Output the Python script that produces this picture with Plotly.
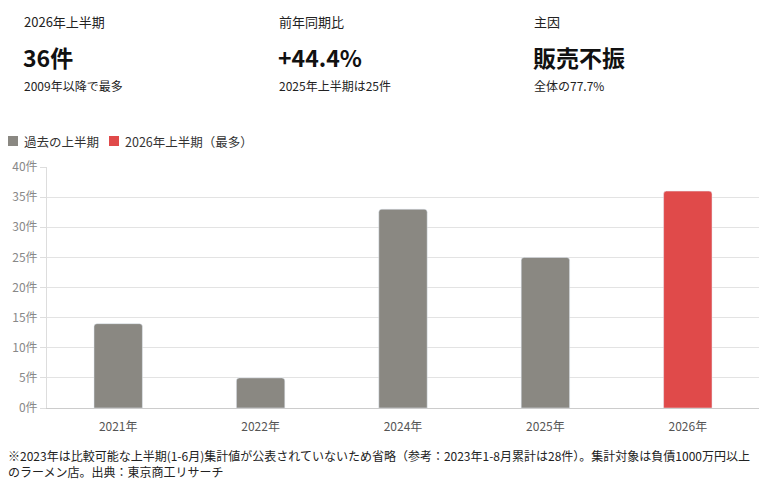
import plotly.graph_objects as go

categories = ["2021年", "2022年", "2024年", "2025年", "2026年"]
values = [14, 5, 33, 25, 36]
past_cats = categories[:4]
past_vals = values[:4]
latest_cats = categories[4:]
latest_vals = values[4:]
y_ticks = [0, 5, 10, 15, 20, 25, 30, 35, 40]
y_labels = [f"{v}件" for v in y_ticks]

GRAY = "#8a8882"
RED = "#e04a4a"

W, H = 768, 484
L, R, T, B = 47, 9, 167, 76
PW, PH = W - L - R, H - T - B
FONT = "Noto Sans CJK JP, Noto Sans, sans-serif"

def px(x):
    return (x - L) / PW

def py(y):
    return (H - B - y) / PH

fig = go.Figure()
fig.add_trace(go.Bar(x=past_cats, y=past_vals, name="過去の上半期",
                     marker=dict(color=GRAY, cornerradius=3), width=0.34))
fig.add_trace(go.Bar(x=latest_cats, y=latest_vals, name="2026年上半期（最多）",
                     marker=dict(color=RED, cornerradius=3), width=0.34))

fig.update_layout(
    width=W, height=H,
    margin=dict(l=L, r=R, t=T, b=B, autoexpand=False),
    plot_bgcolor="white", paper_bgcolor="white",
    barmode="overlay",
    font=dict(family=FONT, color="#333"),
    showlegend=False,
)
fig.update_xaxes(categoryorder="array", categoryarray=categories,
                 showline=True, linecolor="#cccccc", ticks="",
                 ticklabelstandoff=8,
                 tickfont=dict(size=12, color="#555"))
fig.update_yaxes(range=[0, 40], tickvals=y_ticks, ticktext=y_labels,
                 showgrid=True, gridcolor="#e3e3e3", zeroline=False,
                 showline=True, linecolor="#dddddd",
                 ticks="outside", ticklen=6, tickcolor="#dddddd",
                 tickfont=dict(size=12, color="#888"))

# legend (drawn manually to match reference spacing)
legend_items = [(8, GRAY, "過去の上半期"), (109, RED, "2026年上半期（最多）")]
for x0, col, txt in legend_items:
    fig.add_shape(type="rect", xref="paper", yref="paper",
                  x0=px(x0), x1=px(x0 + 10), y0=py(146), y1=py(136),
                  fillcolor=col, line=dict(width=0))
    fig.add_annotation(x=px(x0 + 14), y=py(141), xref="paper", yref="paper",
                       text=txt, showarrow=False, xanchor="left", yanchor="middle",
                       font=dict(size=12.5, color="#333"))

kpis = [
    (24, "2026年上半期", "36件", "2009年以降で最多"),
    (279, "前年同期比", "+44.4%", "2025年上半期は25件"),
    (534, "主因", "販売不振", "全体の77.7%"),
]
for x0, lab, val, sub in kpis:
    fig.add_annotation(x=px(x0 - 2), y=py(22), xref="paper", yref="paper",
                       text=lab, showarrow=False, xanchor="left", yanchor="middle",
                       font=dict(size=13, color="#222"))
    fig.add_annotation(x=px(x0 - 3), y=py(57), xref="paper", yref="paper",
                       text="<b>" + val + "</b>", showarrow=False, xanchor="left", yanchor="middle",
                       font=dict(size=23, color="#111"))
    fig.add_annotation(x=px(x0 - 2), y=py(85), xref="paper", yref="paper",
                       text=sub, showarrow=False, xanchor="left", yanchor="middle",
                       font=dict(size=12, color="#222"))

fig.add_annotation(x=px(6), y=py(445), xref="paper", yref="paper",
                   text="※2023年は比較可能な上半期(1-6月)集計値が公表されていないため省略（参考：2023年1-8月累計は28件）。集計対象は負債1000万円以上<br>のラーメン店。出典：東京商工リサーチ",
                   showarrow=False, xanchor="left", yanchor="top", align="left",
                   font=dict(size=12, color="#222"))

fig.write_html("out.html")
